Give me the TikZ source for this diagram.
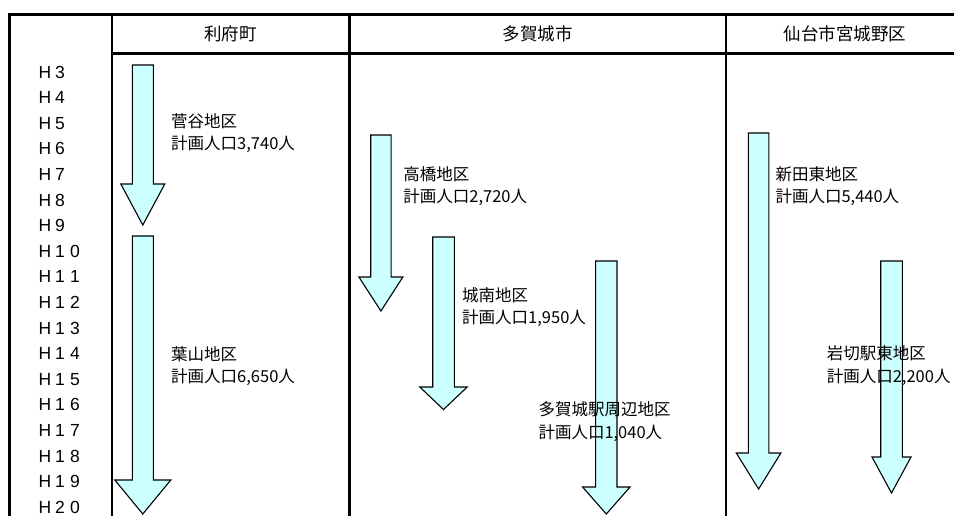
\documentclass[tikz,border=0pt]{standalone}
\usepackage{fontspec}
\setmainfont{Noto Sans CJK JP}
\newfontfamily\yearfont{Liberation Sans}
\definecolor{arrfill}{HTML}{CCFFFF}
\newcommand{\darrow}[7]{%
  \draw[arr] (#1-#5,#2) -- (#1+#5,#2) -- (#1+#5,#3) -- (#1+#6,#3) -- (#1,#4)
    -- (#1-#6,#3) -- (#1-#5,#3) -- cycle;}
\newcommand{\yr}[2]{\makebox[15pt]{H}\makebox[15pt]{#1}\ifx\relax#2\relax\else\makebox[15pt]{#2}\fi}
\tikzset{
  grid/.style={line width=2.8pt, line cap=rect},
  arr/.style={draw=black, line width=1.1pt, fill=arrfill, line join=miter},
  head/.style={font=\fontsize{17.5}{20}\selectfont, inner sep=0pt},
  lab/.style={font=\fontsize{16.5}{22.3}\selectfont, align=left, anchor=west, inner sep=0pt},
  year/.style={font=\yearfont\fontsize{17.5}{20}\selectfont, inner sep=0pt}
}
\begin{document}
\begin{tikzpicture}[x=1pt,y=-1pt]
\useasboundingbox (0,0) rectangle (954,515);
\fill[white] (0,0) rectangle (954,515);
% table lines
\draw[grid] (9.5,14.7) -- (958,14.7);
\draw[grid] (112,53.8) -- (958,53.8);
\draw[grid] (9.5,14.7) -- (9.5,520);
\draw[grid] (112,14.7) -- (112,520);
\draw[grid] (349.7,14.7) -- (349.7,520);
\draw[grid] (726,14.7) -- (726,520);
% headers
\node[head] (h1) at (230.5,34) {利府町};
\node[head] (h2) at (537.9,34) {多賀城市};
\node[head] (h3) at (845,34) {仙台市宮城野区};
% years
\foreach \k/\a/\b in {3/3/,4/4/,5/5/,6/6/,7/7/,8/8/,9/9/,10/1/0,11/1/1,12/1/2,13/1/3,14/1/4,15/1/5,16/1/6,17/1/7,18/1/8,19/1/9,20/2/0}{
  \node[year] (y\k) at (60,{72+(\k-3)*25.6}) {\yr{\a}{\b}};
}
% arrows: cx, top, base, tip, shaft half, head half
\darrow{142.8}{65}{184}{225}{10.5}{22}{}
\darrow{142.8}{236}{480}{514}{10.5}{28}{}
\darrow{380.9}{135}{277}{311}{10.2}{22}{}
\darrow{443.5}{237}{387}{409.5}{10.8}{23.7}{}
\darrow{606.3}{261}{487}{514}{10.7}{23.7}{}
\darrow{758.6}{133}{453}{489}{10.3}{22.3}{}
\darrow{891.5}{261}{457}{493}{10.8}{19.5}{}
% labels
\node[lab] (t1) at (171,132.8) {菅谷地区\\計画人口3,740人};
\node[lab] (t2) at (171,366) {葉山地区\\計画人口6,650人};
\node[lab] (t3) at (403.2,186) {高橋地区\\計画人口2,720人};
\node[lab] (t4) at (462,307) {城南地区\\計画人口1,950人};
\node[lab] (t5) at (538.3,421.7) {多賀城駅周辺地区\\計画人口1,040人};
\node[lab] (t6) at (775.3,186) {新田東地区\\計画人口5,440人};
\node[lab] (t7) at (826.6,365.5) {岩切駅東地区\\計画人口2,200人};
\end{tikzpicture}
\end{document}
